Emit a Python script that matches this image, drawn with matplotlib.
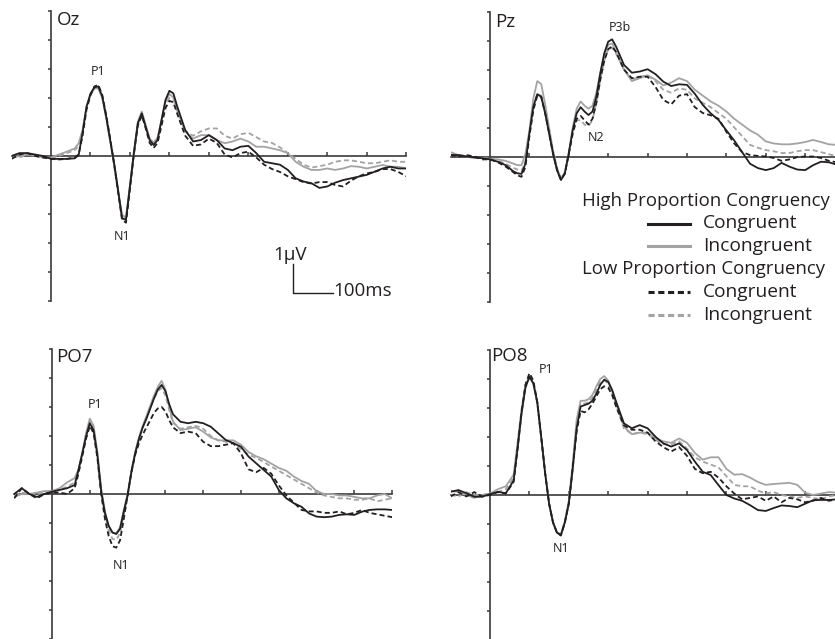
import matplotlib
matplotlib.use("Agg")
import matplotlib.pyplot as plt
from matplotlib.lines import Line2D

plt.rcParams['font.family'] = ['Open Sans', 'DejaVu Sans']

# ---------------- data (time in ms, amplitude in microvolts) ----------------
times = ([-100, -80, -60, -40, -20, 0, 20, 40, 60]
         + list(range(70, 321, 10))
         + list(range(340, 901, 20)))

# Oz
oz_hpc_con = [0, 0.1, 0.1, 0.05, 0, -0.1, -0.1, -0.1, -0.08,
              0.03, 0.8, 1.7, 2.15, 2.37, 2.4, 2.05, 1.35, 0.55, -0.25, -1.17, -2.15, -2.2, -1.05, 0.1, 1.13, 1.47, 1.0, 0.55, 0.38, 0.55, 1.24, 1.93, 2.25, 2.16, 1.7,
              0.9, 0.5, 0.55, 0.72, 0.55, 0.26, 0.2, 0.32, 0.35, 0.1, -0.2, -0.25, -0.3, -0.48, -0.77, -0.88, -0.94, -1.1, -1.05, -0.92, -0.83, -0.77, -0.71, -0.65, -0.54, -0.43, -0.37, -0.43, -0.43]
oz_hpc_inc = [-0.05, 0, 0.05, 0, -0.05, -0.05, 0.05, 0.15, 0.26,
              0.44, 0.9, 1.7, 2.1, 2.33, 2.33, 2.0, 1.3, 0.5, -0.3, -1.23, -2.05, -2.1, -1.0, 0.15, 1.18, 1.53, 1.07, 0.6, 0.46, 0.64, 1.24, 1.87, 2.14, 2.02, 1.59,
              0.84, 0.6, 0.72, 0.72, 0.55, 0.44, 0.5, 0.6, 0.5, 0.32, 0.32, 0.26, 0.2, 0.1, -0.2, -0.37, -0.48, -0.48, -0.43, -0.48, -0.43, -0.35, -0.37, -0.43, -0.37, -0.31, -0.37, -0.37, -0.43]
oz_lpc_con = [-0.1, 0.05, 0.1, 0, -0.05, -0.1, -0.12, -0.1, -0.05,
              0.05, 0.7, 1.6, 2.1, 2.4, 2.45, 2.1, 1.4, 0.6, -0.3, -1.25, -2.2, -2.3, -1.15, 0.05, 1.05, 1.4, 0.95, 0.45, 0.28, 0.45, 1.05, 1.65, 1.9, 1.85, 1.45,
              0.7, 0.35, 0.4, 0.6, 0.45, 0.05, -0.05, 0.1, 0.15, -0.05, -0.3, -0.45, -0.55, -0.7, -0.8, -0.9, -0.95, -0.9, -0.9, -1.0, -1.05, -0.85, -0.7, -0.6, -0.55, -0.45, -0.45, -0.55, -0.7]
oz_lpc_inc = [0, -0.05, 0.05, 0, -0.05, -0.08, 0, 0.1, 0.2,
              0.35, 0.85, 1.65, 2.1, 2.35, 2.35, 2.0, 1.3, 0.5, -0.3, -1.2, -2.05, -2.15, -1.05, 0.1, 1.1, 1.45, 1.0, 0.55, 0.4, 0.55, 1.15, 1.75, 2.0, 1.95, 1.55,
              0.85, 0.7, 0.85, 0.95, 0.95, 0.7, 0.6, 0.75, 0.8, 0.65, 0.5, 0.45, 0.3, 0.1, -0.1, -0.3, -0.4, -0.35, -0.3, -0.2, -0.15, -0.15, -0.2, -0.25, -0.25, -0.2, -0.15, -0.2, -0.2]

# Pz
pz_hpc_con = [0.05, 0.05, 0, -0.03, -0.06, -0.1, -0.18, -0.3, -0.52,
              -0.58, -0.6, -0.24, 0.8, 1.72, 2.15, 2.06, 1.49, 0.8, 0.1, -0.47, -0.81, -0.58, 0.1, 0.91, 1.49, 1.7, 1.55, 1.43, 1.55, 2.06, 2.87, 3.56, 3.96, 4.04, 3.79,
              3.16, 2.89, 2.93, 3.01, 2.84, 2.58, 2.43, 2.49, 2.47, 2.16, 1.78, 1.49, 1.26, 0.9, 0.55, 0.15, -0.25, -0.4, -0.47, -0.4, -0.22, -0.35, -0.45, -0.47, -0.3, -0.18, -0.2, -0.28, -0.3]
pz_hpc_inc = [0.15, 0.05, 0, -0.05, -0.05, -0.08, -0.1, -0.15, -0.25,
              -0.3, -0.3, 0.1, 0.9, 2.0, 2.6, 2.5, 1.8, 1.0, 0.2, -0.4, -0.8, -0.55, 0.15, 1.0, 1.65, 1.9, 1.75, 1.65, 1.75, 2.2, 2.9, 3.5, 3.85, 3.9, 3.6,
              3.0, 2.6, 2.7, 2.8, 2.65, 2.45, 2.55, 2.7, 2.6, 2.3, 2.1, 1.9, 1.75, 1.55, 1.3, 1.1, 0.9, 0.75, 0.52, 0.45, 0.42, 0.42, 0.45, 0.5, 0.57, 0.5, 0.42, 0.4, 0.4]
pz_lpc_con = [0.05, 0, 0.05, 0, -0.1, -0.1, -0.2, -0.35, -0.55,
              -0.65, -0.7, -0.35, 0.7, 1.6, 2.1, 2.05, 1.5, 0.8, 0.1, -0.45, -0.8, -0.6, 0.1, 0.8, 1.3, 1.4, 1.25, 1.1, 1.3, 1.85, 2.65, 3.3, 3.7, 3.8, 3.6,
              3.0, 2.7, 2.75, 2.75, 2.4, 1.95, 1.8, 2.1, 2.15, 1.7, 1.5, 1.42, 1.3, 0.85, 0.45, 0.15, 0.05, 0.02, 0.0, -0.05, -0.15, -0.1, -0.02, 0.0, 0.0, -0.05, -0.15, -0.2, -0.25]
pz_lpc_inc = [0.05, 0.05, 0, -0.05, -0.05, -0.08, -0.15, -0.25, -0.4,
              -0.45, -0.5, -0.15, 0.75, 1.65, 2.15, 2.1, 1.55, 0.85, 0.15, -0.4, -0.75, -0.55, 0.1, 0.8, 1.25, 1.25, 1.1, 1.05, 1.25, 1.85, 2.65, 3.3, 3.7, 3.75, 3.55,
              3.0, 2.65, 2.75, 2.8, 2.6, 2.3, 2.2, 2.35, 2.3, 2.0, 1.85, 1.7, 1.5, 1.3, 1.0, 0.7, 0.4, 0.3, 0.22, 0.18, 0.12, 0.12, 0.18, 0.22, 0.22, 0.15, 0.08, 0.0, -0.05]

# PO7
po7_hpc_con = [0, 0.2, 0, -0.1, 0, 0.08, 0.14, 0.2, 0.31,
               0.83, 1.4, 1.98, 2.44, 2.2, 1.35, 0.1, -0.65, -1.1, -1.33, -1.38, -1.2, -0.6, -0.05, 0.75, 1.4, 1.9, 2.3, 2.6, 2.95, 3.3, 3.6, 3.76, 3.55, 3.1, 2.75,
               2.49, 2.44, 2.49, 2.44, 2.32, 2.09, 1.86, 1.75, 1.63, 1.29, 1.06, 0.83, 0.6, 0.14, -0.15, -0.32, -0.44, -0.67, -0.78, -0.8, -0.78, -0.72, -0.7, -0.72, -0.61, -0.55, -0.53, -0.53, -0.55]
po7_hpc_inc = [-0.1, 0, 0, 0.05, 0.1, 0.1, 0.2, 0.4, 0.55,
               0.85, 1.4, 2.1, 2.6, 2.35, 1.45, 0.2, -0.6, -1.1, -1.33, -1.35, -1.15, -0.55, 0.0, 0.8, 1.45, 1.95, 2.35, 2.7, 3.05, 3.4, 3.7, 3.9, 3.6, 3.0, 2.5,
               2.2, 2.25, 2.3, 2.15, 1.95, 1.85, 1.85, 1.85, 1.7, 1.45, 1.3, 1.2, 1.05, 0.9, 0.8, 0.6, 0.45, 0.35, 0.1, 0.0, 0.0, -0.05, -0.05, -0.1, -0.15, -0.15, -0.05, 0.0, -0.15]
po7_lpc_con = [-0.15, 0.2, 0, -0.15, 0, 0.05, 0.05, 0, 0.2,
               0.7, 1.3, 1.9, 2.35, 2.1, 1.25, 0.0, -0.85, -1.45, -1.8, -1.85, -1.6, -0.85, -0.05, 0.75, 1.35, 1.75, 2.05, 2.3, 2.55, 2.8, 2.95, 3.0, 2.85, 2.55, 2.3,
               2.1, 2.15, 2.1, 1.8, 1.65, 1.65, 1.7, 1.75, 1.4, 0.85, 0.75, 0.9, 0.7, 0.3, -0.05, -0.3, -0.55, -0.6, -0.6, -0.65, -0.65, -0.6, -0.7, -0.65, -0.55, -0.65, -0.7, -0.75, -0.8]
po7_lpc_inc = [-0.05, 0.05, 0, 0, 0.05, 0.1, 0.15, 0.25, 0.4,
               0.8, 1.35, 2.0, 2.5, 2.25, 1.4, 0.15, -0.7, -1.25, -1.55, -1.58, -1.35, -0.7, -0.05, 0.78, 1.42, 1.9, 2.3, 2.65, 3.0, 3.3, 3.55, 3.65, 3.4, 2.9, 2.45,
               2.25, 2.3, 2.35, 2.25, 2.0, 1.85, 1.8, 1.75, 1.55, 1.35, 1.25, 1.1, 0.95, 0.8, 0.65, 0.5, 0.35, 0.2, 0.05, -0.05, -0.1, -0.15, -0.15, -0.2, -0.2, -0.15, -0.25, -0.2, -0.15]

# PO8
po8_hpc_con = [0.11, 0.17, 0.06, -0.06, -0.06, 0.03, 0.11, 0.06, 0.5,
               1.6, 2.8, 3.7, 4.08, 3.85, 3.2, 2.0, 0.75, -0.3, -0.95, -1.3, -1.38, -0.95, -0.3, 0.9, 2.3, 3.05, 3.1, 3.15, 3.25, 3.5, 3.8, 3.98, 3.9, 3.62, 3.22,
               2.47, 2.3, 2.41, 2.3, 2.01, 1.78, 1.67, 1.78, 1.55, 1.15, 0.8, 0.69, 0.34, 0.0, -0.12, -0.2, -0.35, -0.52, -0.55, -0.45, -0.36, -0.38, -0.42, -0.3, -0.18, -0.17, -0.17, -0.15, -0.15]
po8_hpc_inc = [0.15, 0.1, 0, -0.1, 0, 0.05, 0.2, 0.3, 0.7,
               1.8, 2.95, 3.8, 4.05, 3.85, 3.2, 2.0, 0.75, -0.3, -0.95, -1.3, -1.35, -0.9, -0.2, 1.1, 2.6, 3.25, 3.25, 3.3, 3.45, 3.75, 4.0, 4.1, 3.95, 3.6, 3.15,
               2.35, 2.1, 2.15, 2.15, 1.95, 1.85, 1.8, 1.95, 1.8, 1.45, 1.22, 1.3, 1.3, 0.9, 0.7, 0.72, 0.6, 0.45, 0.35, 0.38, 0.4, 0.42, 0.35, 0.08, 0.0, 0.05, 0.1, 0.08, 0.05]
po8_lpc_con = [-0.05, 0.1, -0.05, 0.1, -0.05, 0, 0.1, 0.05, 0.45,
               1.6, 2.85, 3.8, 4.2, 3.95, 3.2, 2.0, 0.75, -0.3, -0.95, -1.3, -1.4, -0.95, -0.3, 0.95, 2.2, 2.9, 2.85, 2.95, 3.15, 3.4, 3.65, 3.75, 3.7, 3.45, 3.05,
               2.4, 2.25, 2.25, 2.15, 1.85, 1.65, 1.5, 1.65, 1.35, 0.9, 0.75, 0.8, 0.6, 0.3, 0.05, -0.15, -0.1, -0.05, -0.2, -0.05, -0.25, -0.1, -0.15, -0.25, -0.2, -0.1, -0.2, -0.15, -0.1]
po8_lpc_inc = [0, -0.05, 0.1, 0, 0, 0.05, 0.1, 0.2, 0.6,
               1.75, 2.9, 3.8, 4.05, 3.85, 3.15, 1.95, 0.7, -0.3, -0.95, -1.3, -1.35, -0.9, -0.25, 1.0, 2.45, 3.15, 3.15, 3.2, 3.35, 3.65, 3.9, 3.95, 3.85, 3.5, 3.1,
               2.3, 2.1, 2.15, 2.1, 1.9, 1.75, 1.75, 1.85, 1.6, 1.3, 1.15, 1.05, 0.95, 0.65, 0.35, 0.3, 0.3, 0.15, 0.05, 0.1, 0.0, -0.05, -0.1, -0.05, -0.1, -0.15, -0.05, 0.0, -0.05]

channels = ["Oz", "Pz", "PO7", "PO8"]
condition_labels = ["Congruent", "Incongruent", "Congruent", "Incongruent"]
group_labels = ["High Proportion Congruency", "Low Proportion Congruency"]
x_ticks = [100, 200, 300, 400, 500, 600, 700, 800, 900]
y_ticks = [-5, -4, -3, -2, -1, 1, 2, 3, 4, 5]

# peak labels: (text, time, amplitude)
peaks = {
    "Oz": [("P1", 119, 2.9), ("N1", 180, -2.76)],
    "Pz": [("P3b", 330, 4.46), ("N2", 269, 0.64)],
    "PO7": [("P1", 114, 3.07), ("N1", 182, -2.45)],
    "PO8": [("P1", 142, 4.33), ("N1", 180, -1.84)],
}

series = {
    "Oz": (oz_hpc_con, oz_hpc_inc, oz_lpc_con, oz_lpc_inc),
    "Pz": (pz_hpc_con, pz_hpc_inc, pz_lpc_con, pz_lpc_inc),
    "PO7": (po7_hpc_con, po7_hpc_inc, po7_lpc_con, po7_lpc_inc),
    "PO8": (po8_hpc_con, po8_hpc_inc, po8_lpc_con, po8_lpc_inc),
}

# ---------------- styling ----------------
W, H = 835, 639
BLACK = '#231f20'
GRAY = '#a3a3a3'
AXC = '#3a3a3a'
LW = 1.3
DASH = (2.8, 1.7)
LEG_FS = 13.8
HEAD_FS = 13.4

fig = plt.figure(figsize=(W / 100, H / 100), dpi=100)


def px_axes(x0, ms_px, y_zero, uv_px):
    """axes whose data (-100..900 ms, -5..5 uV) is placed by pixel geometry"""
    left = x0 - 100 * ms_px / 100.0
    width = 1000 * ms_px / 100.0
    top = y_zero - 5 * uv_px
    height = 10 * uv_px
    return fig.add_axes([left / W, (H - top - height) / H, width / W, height / H])


geom = {
    "Oz": (51.0, 39.47, 156.0, 29.0),
    "Pz": (490.0, 39.4, 156.5, 29.0),
    "PO7": (52.0, 37.8, 494.0, 29.0),
    "PO8": (490.0, 39.4, 495.0, 29.0),
}
label_pos = {"Oz": (14, 4.69), "Pz": (13, 4.64), "PO7": (12, 4.72), "PO8": (4, 4.79)}

axes = {}
for ch in channels:
    x0, mspx, yz, uvpx = geom[ch]
    ax = px_axes(x0, mspx, yz, uvpx)
    axes[ch] = ax
    ax.set_xlim(-100, 900)
    ax.set_ylim(-5, 5)
    ax.patch.set_alpha(0)
    for s in ("top", "right"):
        ax.spines[s].set_visible(False)
    ax.spines["left"].set_position(("data", 0))
    ax.spines["bottom"].set_position(("data", 0))
    for s in ("left", "bottom"):
        ax.spines[s].set_color(AXC)
        ax.spines[s].set_linewidth(1.2)
    ax.set_xticks(x_ticks)
    ax.set_yticks(y_ticks)
    ax.tick_params(axis="x", direction="in", length=2.6, width=1.1, color=AXC,
                   labelbottom=False)
    ax.tick_params(axis="y", direction="out", length=2.3, width=1.1, color=AXC,
                   labelleft=False)

    con_h, inc_h, con_l, inc_l = series[ch]
    ax.plot(times, inc_l, color=GRAY, lw=LW, dashes=DASH, zorder=3)
    ax.plot(times, inc_h, color=GRAY, lw=LW, zorder=3)
    ax.plot(times, con_l, color=BLACK, lw=LW, dashes=DASH, zorder=4)
    ax.plot(times, con_h, color=BLACK, lw=LW, zorder=5)

    lx, ly = label_pos[ch]
    ax.text(lx, ly, ch, fontsize=13.5, color=BLACK, ha="left", va="center")
    for txt, tx, ty in peaks[ch]:
        ax.text(tx, ty, txt, fontsize=9, color=BLACK, ha="center", va="center")

# scale bar in Oz panel (1 uV, 100 ms)
axo = axes["Oz"]
sb_t, sb_v = 614, -4.71
axo.plot([sb_t, sb_t, sb_t + 100], [sb_v + 1, sb_v, sb_v], color=BLACK, lw=1.0,
         clip_on=False)
axo.text(sb_t - 8, sb_v + 1.3, "1\u03bcV", fontsize=13.5, color=BLACK,
         ha="center", va="center")
axo.text(sb_t + 102, sb_v + 0.05, "100ms", fontsize=13.5, color=BLACK,
         ha="left", va="center")


# legend (figure pixel coordinates)
def fx(x):
    return x / W


def fy(y):
    return 1 - y / H


baselines = [206.5, 228.5, 251, 274, 297, 320]
fig.text(fx(582), fy(baselines[0]), group_labels[0], fontsize=HEAD_FS, color=BLACK,
         ha="left", va="baseline")
fig.text(fx(582), fy(baselines[3]), group_labels[1], fontsize=HEAD_FS, color=BLACK,
         ha="left", va="baseline")
entries = [(baselines[1], BLACK, None, condition_labels[0]),
           (baselines[2], GRAY, None, condition_labels[1]),
           (baselines[4], BLACK, DASH, condition_labels[2]),
           (baselines[5], GRAY, DASH, condition_labels[3])]
for yy, col, dsh, lab in entries:
    ln = Line2D([fx(648), fx(690)], [fy(yy - 5), fy(yy - 5)],
                transform=fig.transFigure, color=col, lw=2.2)
    if dsh:
        ln.set_dashes((2.0, 1.2))
    fig.add_artist(ln)
    fig.text(fx(703), fy(yy), lab, fontsize=LEG_FS, color=BLACK, ha="left",
             va="baseline")

fig.savefig("out.png", dpi=100)
